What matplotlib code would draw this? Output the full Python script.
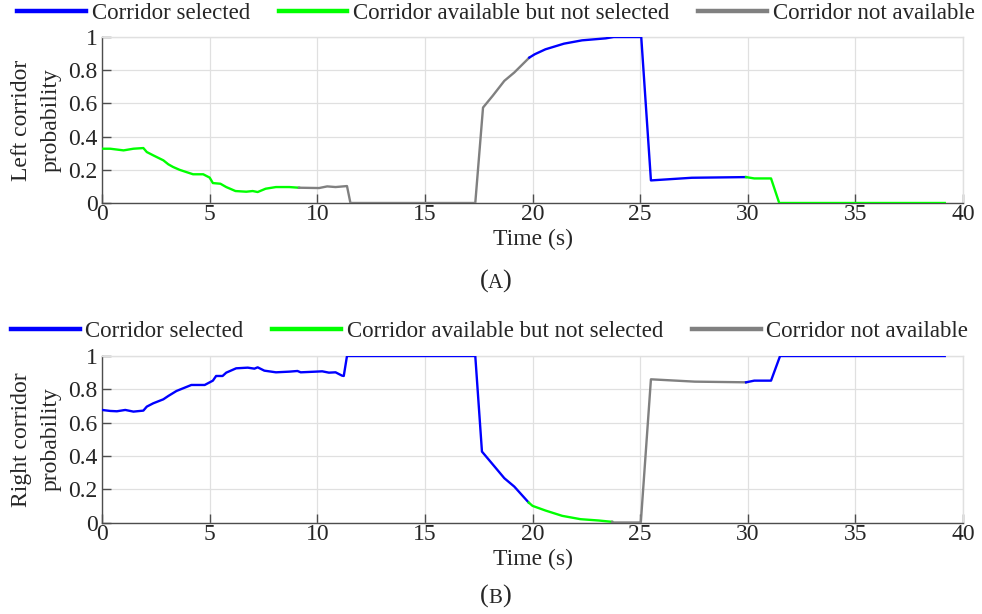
import matplotlib
matplotlib.use("Agg")
import matplotlib.pyplot as plt
from matplotlib.lines import Line2D

# ---- data -------------------------------------------------------------
# State of the segment that starts at each sample:
# "S" = corridor selected, "A" = available but not selected, "N" = not available
left_time = [0.0, 0.38, 1.0, 1.46, 1.92, 2.08, 2.38, 2.85, 3.08, 3.3, 3.6, 3.9,
             4.23, 4.7, 5.0, 5.15, 5.5, 5.77, 6.2, 6.7, 7.0, 7.23, 7.6, 8.08,
             8.7, 9.15,
             10.08, 10.46, 10.85, 11.38, 11.54, 17.34, 17.7, 18.15, 18.69,
             19.15, 19.85,
             20.1, 20.6, 21.46, 22.3, 23.4, 23.77, 25.05, 25.5, 27.4, 29.92,
             30.3, 31.08, 31.46, 39.15]
left_prob = [0.327, 0.327, 0.317, 0.327, 0.331, 0.307, 0.287, 0.257, 0.233,
             0.217, 0.200, 0.187, 0.173, 0.173, 0.153, 0.120, 0.116, 0.096,
             0.072, 0.068, 0.072, 0.066, 0.086, 0.096, 0.096, 0.092,
             0.090, 0.100, 0.096, 0.102, 0.0, 0.0, 0.575, 0.646, 0.736,
             0.786, 0.876,
             0.896, 0.926, 0.960, 0.980, 0.992, 1.0, 1.0, 0.136, 0.152, 0.156,
             0.148, 0.148, 0.0, 0.0]
left_state = (["A"] * 25 + ["N"] * 11 + ["S"] * 10 + ["A"] * 5)

right_time = [0.0, 0.38, 0.69, 1.08, 1.46, 1.92, 2.08, 2.38, 2.85, 3.08, 3.46,
              4.15, 4.77, 5.15, 5.3, 5.6, 5.77, 6.23, 6.77, 7.08, 7.23, 7.54,
              8.08, 8.7, 9.08, 9.23, 9.92, 10.23, 10.54, 10.85, 11.15, 11.23,
              11.38, 17.34, 17.65, 18.08, 18.69, 19.15, 19.82,
              20.0, 20.6, 21.38, 22.23, 23.08, 23.7,
              23.75, 25.03, 25.5, 27.54, 29.92,
              30.3, 31.08, 31.5, 39.15]
right_prob = [0.676, 0.670, 0.668, 0.676, 0.666, 0.672, 0.696, 0.716, 0.740,
              0.760, 0.790, 0.826, 0.826, 0.852, 0.880, 0.880, 0.900, 0.926,
              0.930, 0.924, 0.932, 0.912, 0.902, 0.906, 0.910, 0.902, 0.906,
              0.908, 0.900, 0.902, 0.882, 0.880, 1.0, 1.0, 0.426, 0.360,
              0.266, 0.216, 0.120,
              0.100, 0.072, 0.040, 0.020, 0.012, 0.004,
              0.0, 0.0, 0.860, 0.846, 0.842,
              0.852, 0.852, 1.0, 1.0]
right_state = (["S"] * 38 + ["A"] * 6 + ["N"] * 5 + ["S"] * 5)

state_colors = {"S": "#0000ff", "A": "#00ff00", "N": "#808080"}
legend_labels = ["Corridor selected", "Corridor available but not selected",
                 "Corridor not available"]
x_ticks = [0, 5, 10, 15, 20, 25, 30, 35, 40]
y_ticks = [0, 0.2, 0.4, 0.6, 0.8, 1]
y_tick_labels = ["0", "0.2", "0.4", "0.6", "0.8", "1"]

# ---- style ------------------------------------------------------------
plt.rcParams["font.family"] = ["Liberation Serif", "DejaVu Serif"]
TEXT = "#262626"
AXIS = "#4d4d4d"
GRID = "#e0e0e0"
FS = 17
LEG_FS = 16.5

fig = plt.figure(figsize=(9.82, 6.14), dpi=100)


def draw_runs(ax, t, p, states):
    """Draw the curve as runs of constant state, each in its own colour."""
    start = 0
    n = len(t)
    for i in range(1, n):
        if i == n - 1 or states[i] != states[start]:
            end = i
            ax.plot(t[start:end + 1], p[start:end + 1],
                    color=state_colors[states[start]], lw=1.7,
                    solid_joinstyle="round", zorder=3)
            start = i


def setup_axes(rect, t, p, states, ylabel, caption, caption_y, legend_xy):
    ax = fig.add_axes(rect)
    draw_runs(ax, t, p, states)
    ax.set_xlim(0, 40)
    ax.set_ylim(0, 1)
    ax.set_xticks(x_ticks)
    ax.set_yticks(y_ticks)
    ax.set_yticklabels(y_tick_labels)
    ax.grid(True, color=GRID, lw=0.9, zorder=0)
    ax.set_axisbelow(True)
    for side in ("top", "right"):
        ax.spines[side].set_color(GRID)
        ax.spines[side].set_linewidth(1.0)
    for side in ("left", "bottom"):
        ax.spines[side].set_color(AXIS)
        ax.spines[side].set_linewidth(1.0)
    ax.tick_params(direction="in", length=6.5, width=1.0, color=AXIS,
                   labelsize=FS, labelcolor=TEXT, pad=1)
    ax.tick_params(axis="y", pad=3)
    ax.set_xlabel("Time (s)", fontsize=FS, color=TEXT, labelpad=2.5)
    ax.set_ylabel(ylabel, fontsize=FS, color=TEXT, labelpad=5,
                  linespacing=1.55)

    handles = [Line2D([], [], color=state_colors[k], lw=3.2)
               for k in ("S", "A", "N")]
    fig.legend(handles, legend_labels, loc="center", ncol=3,
               bbox_to_anchor=legend_xy, frameon=False,
               fontsize=LEG_FS, handlelength=3.0, handletextpad=0.25,
               columnspacing=1.25, borderaxespad=0, borderpad=0,
               labelcolor=TEXT)

    # caption with a small-capital letter between parentheses
    cx = 0.5045
    fig.text(cx - 0.0068, caption_y, "(", fontsize=FS + 2, color=TEXT,
             ha="right", va="baseline")
    fig.text(cx, caption_y, caption, fontsize=FS - 2, color=TEXT,
             ha="center", va="baseline")
    fig.text(cx + 0.0068, caption_y, ")", fontsize=FS + 2, color=TEXT,
             ha="left", va="baseline")
    return ax


setup_axes([0.1039, 0.6694, 0.8768, 0.2703], left_time, left_prob,
           left_state, "Left corridor\nprobability", "A", 1 - 288 / 614,
           (0.505, 1 - 13 / 614))
setup_axes([0.1039, 0.1490, 0.8768, 0.2712], right_time, right_prob,
           right_state, "Right corridor\nprobability", "B", 1 - 603 / 614,
           (0.4985, 1 - 331 / 614))

fig.savefig("out.png", dpi=100)
